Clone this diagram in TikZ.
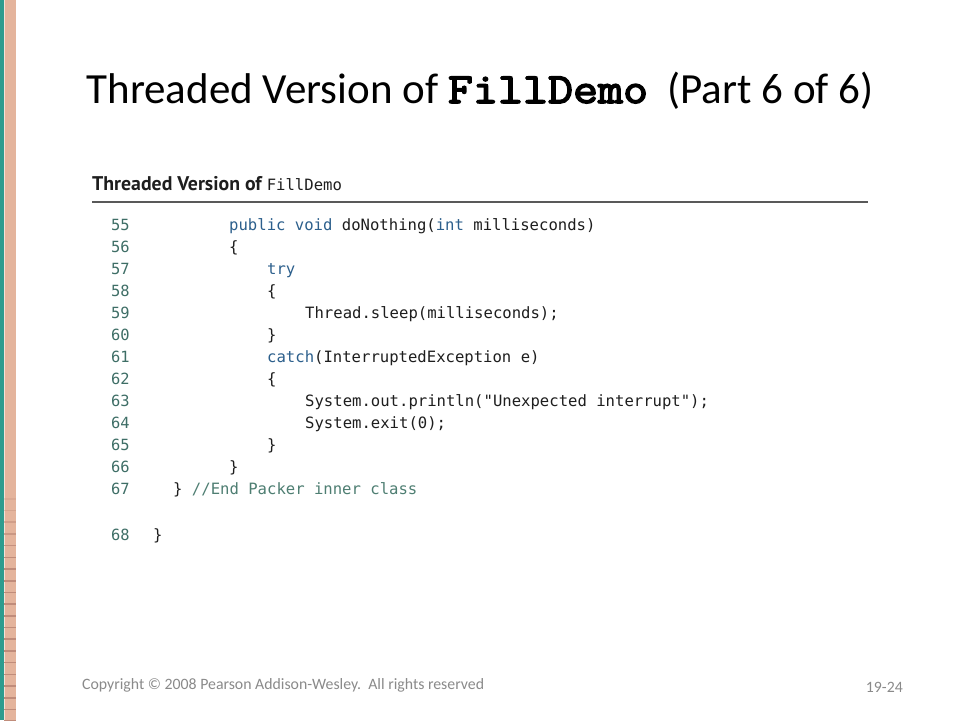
\documentclass[tikz,border=0pt]{standalone}
\usepackage{fontspec}
\setmainfont{Carlito}
\newfontfamily\codefont{DejaVu Sans Mono}
\newfontfamily\headfont{PT Sans}
\newfontfamily\courbold[FakeBold=3.5,FakeStretch=1.13]{Latin Modern Mono}
\definecolor{stripteal}{HTML}{2E9C8E}
\definecolor{striptan}{HTML}{E4B49C}
\definecolor{striptick}{HTML}{C08C7A}
\definecolor{numcol}{HTML}{3E6E66}
\definecolor{kwcol}{HTML}{2C5F8C}
\definecolor{cmtcol}{HTML}{4E7E72}
\definecolor{txtcol}{HTML}{1E1E1E}
\definecolor{footgray}{HTML}{8A8A8A}
\tikzset{
  codeline/.style={anchor=base west, inner sep=0pt, font=\codefont\fontsize{15.6}{18}\selectfont, text=txtcol},
  linenum/.style={anchor=base west, inner sep=0pt, font=\codefont\fontsize{15.4}{18}\selectfont, text=numcol},
  foot/.style={inner sep=0pt, font=\fontsize{15.8}{18}\selectfont, text=footgray}
}
\newcommand{\kw}[1]{\textcolor{kwcol}{#1}}
\newcommand{\cmt}[1]{\textcolor{cmtcol}{#1}}
\begin{document}
\begin{tikzpicture}[x=1pt,y=-1pt]
\useasboundingbox (0,0) rectangle (960,720);
\fill[white] (0,0) rectangle (960,720);
% left strip
\fill[striptan] (4,0) rectangle (16,720);
\fill[stripteal] (0,0) rectangle (3.5,720);
\fill[white!60!striptan] (3.5,0) rectangle (5,720);
\foreach \k in {0,...,19}{
  \pgfmathsetmacro{\op}{min(1,0.25+\k*0.15)}
  \fill[striptick, opacity=\op] (4,{498+\k*11.7}) rectangle (16,{499.6+\k*11.7});
}
% title
\node[anchor=base, inner sep=0pt, font=\fontsize{43}{50}\selectfont] (title) at (480,103)
  {Threaded Version of {\courbold FillDemo}\ \ (Part 6 of 6)};
% header
\node[anchor=base west, inner sep=0pt, font=\headfont\bfseries\fontsize{19.8}{22}\selectfont, text=txtcol] (head) at (92,190)
  {Threaded Version of {\codefont\mdseries\fontsize{15.6}{18}\selectfont FillDemo}};
\coordinate (ruleL) at (92,202);
\coordinate (ruleR) at (868,202);
\draw[line width=1.3pt, black!65] (ruleL) -- (ruleR);
% line numbers
\foreach \n/\y in {55/230,56/252,57/274,58/296,59/318,60/340,61/362,62/384,63/406,64/428,65/450,66/472,67/494,68/540}{
  \node[linenum] (n\n) at (111,\y) {\n};
}
% code
\node[codeline] (c55) at (229,230) {\kw{public} \kw{void} doNothing(\kw{int} milliseconds)};
\node[codeline] (c56) at (229,252) {\{};
\node[codeline] (c57) at (267,274) {\kw{try}};
\node[codeline] (c58) at (267,296) {\{};
\node[codeline] (c59) at (305,318) {Thread.sleep(milliseconds);};
\node[codeline] (c60) at (267,340) {\}};
\node[codeline] (c61) at (267,362) {\kw{catch}(InterruptedException e)};
\node[codeline] (c62) at (267,384) {\{};
\node[codeline] (c63) at (305,406) {System.out.println("Unexpected interrupt");};
\node[codeline] (c64) at (305,428) {System.exit(0);};
\node[codeline] (c65) at (267,450) {\}};
\node[codeline] (c66) at (229,472) {\}};
\node[codeline] (c67) at (173,494) {\} \cmt{//End Packer inner class}};
\node[codeline] (c68) at (153,540) {\}};
% footer
\node[foot, anchor=base west] (copy) at (82,689) {Copyright \textcopyright{} 2008 Pearson Addison-Wesley.\ \ All rights reserved};
\node[foot, anchor=base east] (page) at (903,692) {19-24};
\end{tikzpicture}
\end{document}
